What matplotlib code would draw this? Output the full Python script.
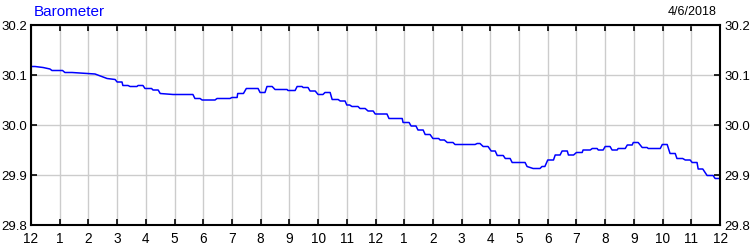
import matplotlib
matplotlib.use("Agg")
import matplotlib.pyplot as plt

# Hours since midnight and barometer readings (inHg)
hours = [0.0, 0.14, 0.42, 0.66, 0.73, 1.1, 1.18, 1.43, 2.23, 2.65, 2.93, 3.0, 3.17,
         3.2, 3.38, 3.45, 3.69, 3.73, 3.9, 3.97, 4.2, 4.25, 4.43, 4.5, 4.95, 5.64,
         5.71, 5.89, 5.96, 6.41, 6.48, 6.93, 7.0, 7.18, 7.2, 7.4, 7.5, 7.91,
         7.98, 8.15, 8.22, 8.4, 8.5, 8.92, 8.95, 9.2, 9.27, 9.44, 9.48, 9.65,
         9.72, 9.9, 10.0, 10.17, 10.24, 10.42, 10.49, 10.7, 10.77, 10.94, 11.0, 11.1,
         11.18, 11.39, 11.46, 11.64, 11.74, 11.92, 11.99, 12.4, 12.47, 12.93,
         12.96, 13.17, 13.24, 13.41, 13.48, 13.66, 13.73, 13.9, 14.0, 14.2,
         14.25, 14.4, 14.5, 14.7, 14.77, 15.47, 15.54, 15.64, 15.75, 15.92,
         16.03, 16.17, 16.24, 16.45, 16.52, 16.69, 16.76, 17.21, 17.28, 17.49,
         17.73, 17.8, 17.9, 18.0, 18.2, 18.26, 18.43, 18.5, 18.68, 18.72, 18.9,
         19.0, 19.2, 19.23, 19.48, 19.55, 19.72, 19.76, 19.93, 20.0, 20.17,
         20.24, 20.42, 20.45, 20.7, 20.77, 20.94, 20.98, 21.15, 21.29, 21.46,
         21.5, 21.92, 21.99, 22.16, 22.26, 22.44, 22.5, 22.7, 22.79, 22.96,
         23.03, 23.2, 23.24, 23.4, 23.55, 23.76, 23.83, 24.0]
pressure = [30.117, 30.117, 30.115, 30.112, 30.109, 30.109, 30.105, 30.105, 30.102, 30.093, 30.091, 30.086, 30.086,
            30.079, 30.079, 30.077, 30.077, 30.079, 30.079, 30.073, 30.073, 30.070, 30.070, 30.063, 30.061, 30.061,
            30.053, 30.053, 30.050, 30.050, 30.053, 30.053, 30.055, 30.055, 30.063, 30.063, 30.073, 30.073,
            30.065, 30.065, 30.077, 30.077, 30.071, 30.071, 30.069, 30.069, 30.077, 30.077, 30.075, 30.075,
            30.068, 30.068, 30.061, 30.061, 30.065, 30.065, 30.051, 30.051, 30.048, 30.048, 30.040, 30.040,
            30.037, 30.037, 30.033, 30.033, 30.028, 30.028, 30.022, 30.022, 30.013, 30.013,
            30.005, 30.005, 29.998, 29.998, 29.990, 29.990, 29.981, 29.981, 29.973, 29.973,
            29.970, 29.970, 29.965, 29.965, 29.961, 29.961, 29.963, 29.963, 29.957, 29.957,
            29.948, 29.948, 29.939, 29.939, 29.933, 29.933, 29.925, 29.925, 29.917, 29.913,
            29.913, 29.917, 29.917, 29.930, 29.930, 29.940, 29.940, 29.948, 29.948, 29.940, 29.940,
            29.945, 29.945, 29.950, 29.950, 29.953, 29.953, 29.950, 29.950, 29.957, 29.957,
            29.950, 29.950, 29.953, 29.953, 29.960, 29.960, 29.965, 29.965, 29.955, 29.955,
            29.953, 29.953, 29.961, 29.961, 29.943, 29.943, 29.933, 29.933, 29.930, 29.930,
            29.925, 29.925, 29.912, 29.912, 29.899, 29.899, 29.893, 29.893]

hour_labels = ["12"] + [str(i) for i in range(1, 12)] + ["12"] + [str(i) for i in range(1, 12)] + ["12"]
y_ticks = [29.8, 29.9, 30.0, 30.1, 30.2]
title = "Barometer"
date_text = "4/6/2018"

plt.rcParams['font.family'] = ['Liberation Sans', 'DejaVu Sans']

fig = plt.figure(figsize=(7.5, 2.5), dpi=100)
ax = fig.add_axes([31/750, 25/250, 689/750, 200/250])

ax.plot(hours, pressure, color='#0000ff', linewidth=1.1)

ax.set_xlim(0, 24)
ax.set_ylim(29.8, 30.2)
ax.set_xticks(range(25))
ax.set_xticklabels(hour_labels, fontsize=9.8)
ax.set_yticks(y_ticks)
ax.set_yticklabels([f"{v:.1f}" for v in y_ticks], fontsize=9.5)

ax.grid(True, color='#cccccc', linewidth=1.0)
ax.set_axisbelow(True)
ax.tick_params(axis='both', direction='in', length=4, width=1.2, color='black',
               top=True, right=True, labelright=True, labelleft=True)
ax.tick_params(axis='y', pad=3)
ax.tick_params(axis='x', pad=5)
for s in ax.spines.values():
    s.set_linewidth(1.5)
    s.set_color('black')

fig.text(34/750, 1 - 12/250, title, color='#0000ff', fontsize=11, va='center', ha='left')
fig.text(717/750, 1 - 12/250, date_text, color='black', fontsize=9, va='center', ha='right')

fig.savefig("out.png", dpi=100)
